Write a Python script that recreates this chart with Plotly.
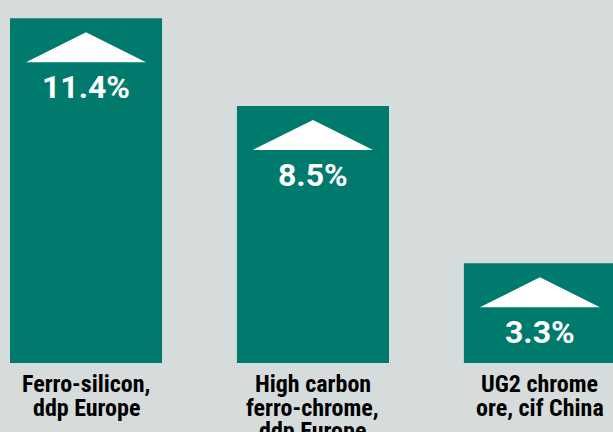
import plotly.graph_objects as go

categories = ["Ferro-silicon,<br>ddp Europe", "High carbon<br>ferro-chrome,<br>ddp Europe", "UG2 chrome<br>ore, cif China"]
values = [11.4, 8.5, 3.3]
labels = ["11.4%", "8.5%", "3.3%"]

BG = "#d6dcdc"
BAR = "#007a6c"

x_idx = list(range(len(categories)))

fig = go.Figure()
fig.add_trace(go.Bar(
    x=x_idx, y=values, width=0.67,
    marker=dict(color=BAR, line=dict(width=0)),
    hoverinfo="skip",
))

shapes = []
annotations = []
for i, v, t in zip(x_idx, values, labels):
    shapes.append(dict(
        type="path", xref="x", yref="y",
        xsizemode="pixel", ysizemode="pixel",
        xanchor=i, yanchor=v,
        path="M -60,-44 L 0,-14 L 60,-44 Z",
        fillcolor="white", line=dict(width=0),
    ))
    annotations.append(dict(
        x=i, y=v, xref="x", yref="y", text=t, showarrow=False,
        yshift=-69, yanchor="middle", xanchor="center",
        font=dict(family="Roboto", size=32, color="white", weight="bold"),
    ))

# category labels, one annotation per line for tight line spacing
for i, cat in zip(x_idx, categories):
    for k, line in enumerate(cat.split("<br>")):
        annotations.append(dict(
            x=i, y=0, xref="x", yref="paper", text=line, showarrow=False,
            yshift=-21 - 23.5 * k, yanchor="middle", xanchor="center",
            font=dict(family="Roboto Condensed", size=24, color="black", weight="bold"),
        ))

fig.update_layout(
    width=613, height=432,
    margin=dict(l=0, r=0, t=0, b=69),
    paper_bgcolor=BG, plot_bgcolor=BG,
    showlegend=False,
    shapes=shapes, annotations=annotations,
    xaxis=dict(
        range=[-0.379, 2.322], showticklabels=False, automargin=False,
        showgrid=False, zeroline=False, showline=False, ticks="",
        fixedrange=True,
    ),
    yaxis=dict(range=[0, 12], visible=False, fixedrange=True),
)

fig.write_html("out.html")
